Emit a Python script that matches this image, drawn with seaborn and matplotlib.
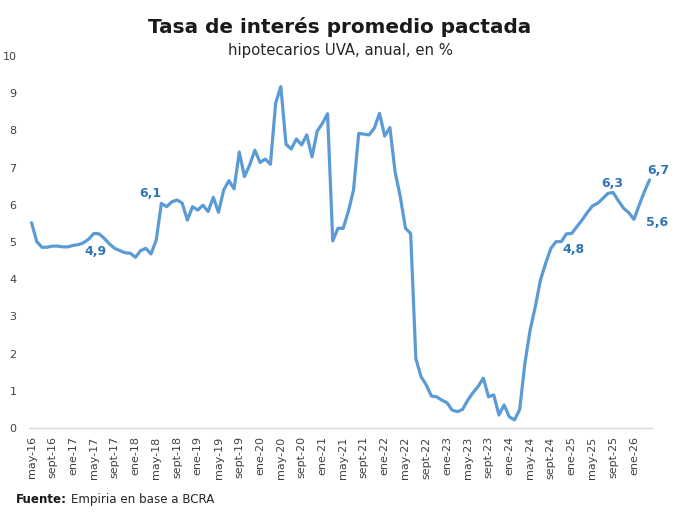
import pandas as pd
import numpy as np
import matplotlib
matplotlib.use("Agg")
import matplotlib.pyplot as plt
import seaborn as sns

# Tasa promedio pactada, hipotecarios UVA (% anual), mensual desde may-16
tasa = [5.52, 5.01, 4.86, 4.86, 4.89, 4.89, 4.87, 4.87, 4.91, 4.93,
        4.98, 5.08, 5.23, 5.22, 5.10, 4.95, 4.83, 4.77, 4.71, 4.70,
        4.59, 4.77, 4.83, 4.68, 5.05, 6.04, 5.95, 6.08, 6.13, 6.05,
        5.59, 5.95, 5.86, 5.99, 5.82, 6.20, 5.80, 6.40, 6.65, 6.43,
        7.42, 6.76, 7.07, 7.47, 7.14, 7.23, 7.09, 8.73, 9.18, 7.63,
        7.50, 7.77, 7.61, 7.88, 7.29, 7.98, 8.19, 8.45, 5.03, 5.37,
        5.37, 5.82, 6.40, 7.92, 7.90, 7.88, 8.06, 8.46, 7.85, 8.08,
        6.89, 6.22, 5.37, 5.23, 1.87, 1.38, 1.16, 0.86, 0.84, 0.75,
        0.68, 0.48, 0.44, 0.50, 0.75, 0.95, 1.12, 1.34, 0.84, 0.89,
        0.35, 0.62, 0.30, 0.22, 0.50, 1.74, 2.63, 3.26, 3.98, 4.43,
        4.83, 5.01, 5.01, 5.22, 5.23, 5.41, 5.59, 5.79, 5.97, 6.04,
        6.17, 6.31, 6.33, 6.11, 5.91, 5.79, 5.61, 5.99, 6.35, 6.67]

meses = ['ene', 'feb', 'mar', 'abr', 'may', 'jun',
         'jul', 'ago', 'sept', 'oct', 'nov', 'dic']
fechas = pd.date_range("2016-05-01", periods=len(tasa), freq="MS")
etiquetas = [f"{meses[d.month - 1]}-{d.year % 100:02d}" for d in fechas]

# etiquetas de datos: (indice, texto, desplazamiento en puntos)
rotulos = [(25, "6,1", (-8, 7)),
           (12, "4,9", (1, -13)),
           (100, "4,8", (16, -1)),
           (111, "6,3", (3, 7)),
           (116, "5,6", (17, -2)),
           (119, "6,7", (6, 7))]

df = pd.DataFrame({"idx": np.arange(len(tasa)), "tasa": tasa})

sns.set_style("white")
plt.rcParams['font.family'] = ['DejaVu Sans']

fig = plt.figure(figsize=(6.8, 5.19), dpi=100)
ax = fig.add_axes([0.0426, 0.1753, 0.9164, 0.7167])

sns.lineplot(data=df, x="idx", y="tasa", ax=ax, color="#5B9BD5", linewidth=2.3)

for i, txt, off in rotulos:
    ax.annotate(txt, xy=(i, tasa[i]), xytext=off, textcoords="offset points",
                ha="center", va="center", fontsize=9, fontweight="bold",
                color="#2E75B6")

ax.set_xlim(-0.5, len(tasa) - 0.5)
ax.set_ylim(0, 10)
ax.set_yticks(range(0, 11))
ax.set_xticks(df["idx"][::4])
ax.set_xticklabels(etiquetas[::4], rotation=90)
ax.set_xlabel("")
ax.set_ylabel("")
ax.tick_params(axis="both", length=0, labelsize=8, labelcolor="#404040")
ax.tick_params(axis="y", pad=9)
ax.tick_params(axis="x", pad=6)

for s in ["top", "right", "left"]:
    ax.spines[s].set_visible(False)
ax.spines["bottom"].set_color("#D9D9D9")
ax.spines["bottom"].set_linewidth(1)

fig.text(0.5, 0.948, "Tasa de interés promedio pactada", ha="center", va="center",
         fontsize=14.4, fontweight="bold", color="#1a1a1a")
fig.text(0.5, 0.903, "hipotecarios UVA, anual, en %", ha="center", va="center",
         fontsize=10.7, color="#262626")

# fuente al pie: "Fuente:" en negrita y el resto a continuacion
fuente = fig.text(0.024, 0.037, "Fuente:", ha="left", va="center", fontsize=8.6,
                  fontweight="bold", color="#1a1a1a")
ax.annotate("Empiria en base a BCRA", xy=(1, 0.5), xycoords=fuente,
            xytext=(3, 0), textcoords="offset points", ha="left", va="center",
            fontsize=8.6, color="#262626", annotation_clip=False)

fig.savefig("out.png", dpi=100)
